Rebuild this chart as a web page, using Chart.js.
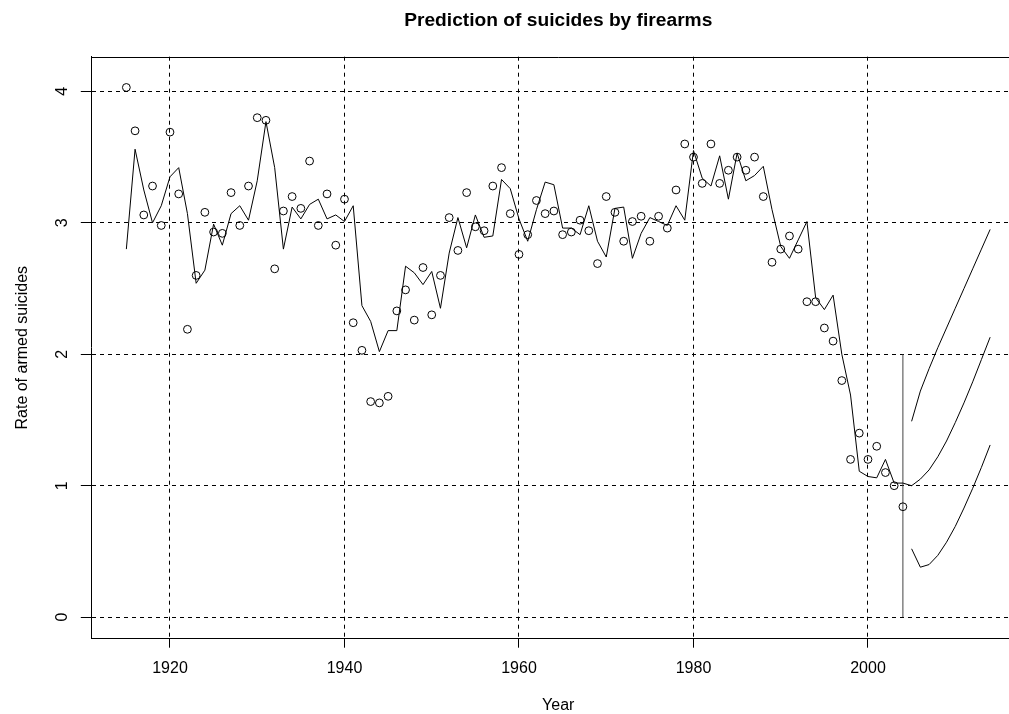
<!DOCTYPE html>
<html>
<head>
<meta charset="utf-8">
<title>Prediction of suicides by firearms</title>
<script src="https://cdn.jsdelivr.net/npm/chart.js@4"></script>
<style>
  html, body { margin: 0; padding: 0; background: #fff; overflow: hidden; }
  canvas { display: block; }
</style>
</head>
<body>
<canvas id="chart" width="1060" height="714"></canvas>
<script>
// observed rates, one per year from 1915 to 2004
const obsStart = 1915;
const observed = [
  4.03, 3.70, 3.06, 3.28, 2.98, 3.69, 3.22, 2.19, 2.60, 3.08,
  2.93, 2.92, 3.23, 2.98, 3.28, 3.80, 3.78, 2.65, 3.09, 3.20,
  3.11, 3.47, 2.98, 3.22, 2.83, 3.18, 2.24, 2.03, 1.64, 1.63,
  1.68, 2.33, 2.49, 2.26, 2.66, 2.30, 2.60, 3.04, 2.79, 3.23,
  2.97, 2.94, 3.28, 3.42, 3.07, 2.76, 2.91, 3.17, 3.07, 3.09,
  2.91, 2.93, 3.02, 2.94, 2.69, 3.20, 3.08, 2.86, 3.01, 3.05,
  2.86, 3.05, 2.96, 3.25, 3.60, 3.50, 3.30, 3.60, 3.30, 3.40,
  3.50, 3.40, 3.50, 3.20, 2.70, 2.80, 2.90, 2.80, 2.40, 2.40,
  2.20, 2.10, 1.80, 1.20, 1.40, 1.20, 1.30, 1.10, 1.00, 0.84
];

// fitted values, same years
const fitted = [
  2.80, 3.56, 3.25, 3.00, 3.13, 3.35, 3.42, 3.07, 2.54, 2.64,
  2.99, 2.83, 3.07, 3.13, 3.02, 3.32, 3.77, 3.42, 2.80, 3.12,
  3.03, 3.14, 3.18, 3.03, 3.06, 3.01, 3.13, 2.37, 2.25, 2.02,
  2.18, 2.18, 2.67, 2.62, 2.53, 2.63, 2.35, 2.77, 3.04, 2.81,
  3.06, 2.89, 2.90, 3.33, 3.26, 3.03, 2.86, 3.10, 3.31, 3.29,
  2.96, 2.96, 2.91, 3.13, 2.86, 2.74, 3.11, 3.12, 2.73, 2.92,
  3.04, 3.01, 2.98, 3.13, 3.02, 3.55, 3.34, 3.28, 3.51, 3.18,
  3.53, 3.32, 3.36, 3.43, 3.10, 2.82, 2.73, 2.87, 3.01, 2.43,
  2.34, 2.45, 2.00, 1.69, 1.11, 1.07, 1.06, 1.20, 1.02, 1.02
];

// forecast 2005-2014 with bounds
const fcYears = [2005, 2006, 2007, 2008, 2009, 2010, 2011, 2012, 2013, 2014];
const fcMean  = [1.00, 1.05, 1.12, 1.22, 1.34, 1.48, 1.63, 1.79, 1.96, 2.13];
const fcUpper = [1.49, 1.72, 1.89, 2.05, 2.20, 2.35, 2.50, 2.65, 2.80, 2.95];
const fcLower = [0.52, 0.38, 0.40, 0.47, 0.57, 0.69, 0.83, 0.98, 1.14, 1.31];

// vertical marker at the end of the data
const cutYear = 2004;
const cutRange = [0, 2];

const xTicks = [1920, 1940, 1960, 1980, 2000];
const yTicks = [0, 1, 2, 3, 4];

const toPts = (ys, x0) => ys.map((y, i) => ({ x: x0 + i, y: y }));
const obsPts = toPts(observed, obsStart);
const fitPts = toPts(fitted, obsStart);
const lastFit = fitPts[fitPts.length - 1];
const meanPts = [lastFit].concat(fcYears.map((x, i) => ({ x: x, y: fcMean[i] })));
const upperPts = fcYears.map((x, i) => ({ x: x, y: fcUpper[i] }));
const lowerPts = fcYears.map((x, i) => ({ x: x, y: fcLower[i] }));
const cutPts = cutRange.map(y => ({ x: cutYear, y: y }));

const FONT = '"Liberation Sans", Arial, Helvetica, sans-serif';

const rLabels = {
  id: 'rLabels',
  afterDraw(chart) {
    const ctx = chart.ctx;
    const a = chart.chartArea;
    const xs = chart.scales.x, ys = chart.scales.y;
    const cx = (a.left + a.right) / 2;
    const cy = (a.top + a.bottom) / 2;
    ctx.save();
    // top of the box
    ctx.strokeStyle = '#000';
    ctx.lineWidth = 1;
    ctx.beginPath();
    ctx.moveTo(a.left, Math.round(a.top) + 0.5);
    ctx.lineTo(a.right, Math.round(a.top) + 0.5);
    ctx.stroke();

    ctx.fillStyle = '#000';
    ctx.font = 'bold 19.2px ' + FONT;
    ctx.textAlign = 'center';
    ctx.textBaseline = 'alphabetic';
    ctx.fillText('Prediction of suicides by firearms', cx, 25.5);

    ctx.font = '16px ' + FONT;
    xTicks.forEach(v => ctx.fillText(String(v), xs.getPixelForValue(v), 673));
    ctx.fillText('Year', cx, 710);

    yTicks.forEach(v => {
      ctx.save();
      ctx.translate(66.7, ys.getPixelForValue(v));
      ctx.rotate(-Math.PI / 2);
      ctx.fillText(String(v), 0, 0);
      ctx.restore();
    });
    ctx.save();
    ctx.translate(26.7, cy);
    ctx.rotate(-Math.PI / 2);
    ctx.fillText('Rate of armed suicides', 0, 0);
    ctx.restore();
    ctx.restore();
  }
};

const lineDs = (data, color) => ({
  data: data,
  showLine: true,
  borderColor: color,
  borderWidth: 1,
  pointRadius: 0,
  fill: false,
  tension: 0
});

new Chart(document.getElementById('chart'), {
  type: 'scatter',
  data: {
    datasets: [
      {
        data: obsPts,
        showLine: false,
        pointStyle: 'circle',
        pointRadius: 3.9,
        pointBorderWidth: 1,
        borderColor: '#000',
        backgroundColor: 'rgba(0,0,0,0)'
      },
      lineDs(fitPts, '#000'),
      lineDs(meanPts, '#000'),
      lineDs(upperPts, '#000'),
      lineDs(lowerPts, '#000'),
      lineDs(cutPts, '#444')
    ]
  },
  options: {
    responsive: false,
    animation: false,
    devicePixelRatio: 1,
    layout: { padding: { top: 56.7, right: 35.3, left: 0, bottom: 0 } },
    plugins: { legend: { display: false }, tooltip: { enabled: false } },
    scales: {
      x: {
        type: 'linear',
        min: 1911.04,
        max: 2017.96,
        afterBuildTicks: s => { s.ticks = xTicks.map(v => ({ value: v })); },
        afterFit: s => { s.height = 75.3; },
        ticks: { display: false },
        grid: { color: '#000', lineWidth: 1, drawTicks: true, tickLength: 9, tickColor: '#000', tickWidth: 1 },
        border: { display: true, color: '#000', width: 1, dash: [4, 4] }
      },
      y: {
        type: 'linear',
        min: -0.164,
        max: 4.264,
        afterBuildTicks: s => { s.ticks = yTicks.map(v => ({ value: v })); },
        afterFit: s => { s.width = 91.8; },
        ticks: { display: false },
        grid: { color: '#000', lineWidth: 1, drawTicks: true, tickLength: 11, tickColor: '#000', tickWidth: 1 },
        border: { display: true, color: '#000', width: 1, dash: [4, 4] }
      }
    }
  },
  plugins: [rLabels]
});
</script>
</body>
</html>
